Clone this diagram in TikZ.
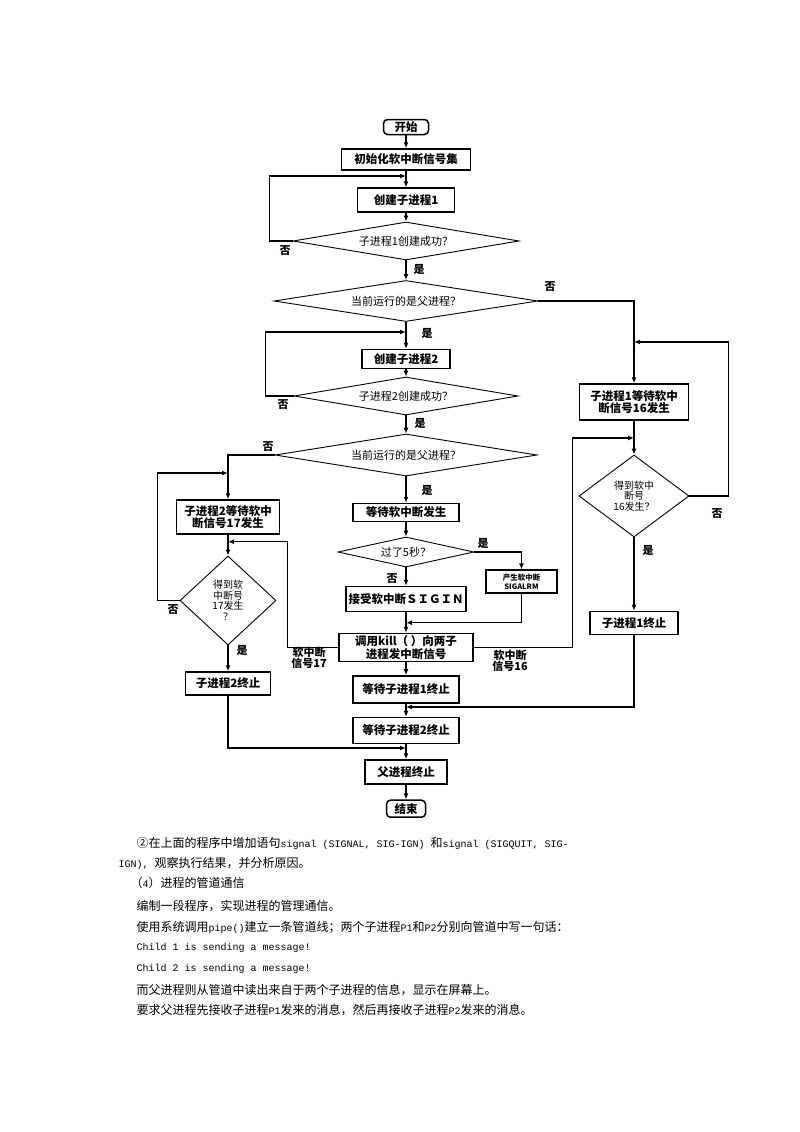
\documentclass[tikz,border=0pt]{standalone}
\usepackage{fontspec}
\setmainfont{Noto Sans CJK SC}
\newfontfamily\halfmono{Liberation Mono}
\usetikzlibrary{shapes.geometric, positioning, arrows.meta}

\newcommand{\asc}[1]{{\halfmono\fontsize{10}{12}\selectfont #1}}

\begin{document}
\begin{tikzpicture}[x=1pt, y=-1pt, on grid, line width=1.4pt, >={Latex[length=6pt,width=5pt]}]
        \tikzset{
          proc/.style={draw, rectangle, line width=1.5pt, inner sep=0pt, align=center, font=\bfseries\fontsize{11.5}{12.5}\selectfont},
          term/.style={proc, rounded corners=4pt},
          decide/.style={draw, diamond, line width=0.9pt, inner sep=0pt, align=center, font=\fontsize{11}{12}\selectfont},
          smalldecide/.style={decide, font=\fontsize{10}{10.5}\selectfont},
          yesno/.style={inner sep=0pt, align=center, font=\bfseries\fontsize{11}{11.5}\selectfont},
          bodytext/.style={anchor=west, inner sep=0pt, font=\fontsize{12}{14}\selectfont}
        }
        \useasboundingbox[fill=white] (0,0) rectangle (800,1132);

        % main column
        \node[term, minimum width=45pt, minimum height=15pt] (start) at (406,127) {开始};
        \node[proc, minimum width=129pt, minimum height=21pt, below=32.5pt of start] (init) {初始化软中断信号集};
        \node[proc, minimum width=97pt, minimum height=24pt, below=40.5pt of init] (fork1) {创建子进程1};
        \node[decide, shape aspect=5.9, minimum width=226pt, minimum height=38pt, below=41pt of fork1] (ok1) {子进程1创建成功？};
        \node[decide, shape aspect=6.5, minimum width=264pt, minimum height=41pt, below=60pt of ok1] (isparent1) {当前运行的是父进程？};
        \node[proc, minimum width=88pt, minimum height=19pt, below=58pt of isparent1] (fork2) {创建子进程2};
        \node[decide, shape aspect=5.9, minimum width=224pt, minimum height=38pt, below=37pt of fork2] (ok2) {子进程2创建成功？};
        \node[decide, shape aspect=6.2, minimum width=262pt, minimum height=42pt, below=59pt of ok2] (isparent2) {当前运行的是父进程？};
        \node[proc, minimum width=106pt, minimum height=18pt, below=57.5pt of isparent2] (waitsig) {等待软中断发生};
        \node[decide, shape aspect=4.5, minimum width=136pt, minimum height=30pt, below=39.5pt of waitsig] (fivesec) {过了5秒？};
        \node[proc, minimum width=120pt, minimum height=25pt, below=47pt of fivesec] (sigin) {接受软中断ＳＩＧＩＮ};
        \node[proc, minimum width=134pt, minimum height=28pt, below=48.5pt of sigin] (kill) {调用kill（ ）向两子\\进程发中断信号};
        \node[proc, minimum width=106pt, minimum height=27pt, below=41.8pt of kill] (wait1) {等待子进程1终止};
        \node[proc, minimum width=106pt, minimum height=26pt, below=41.2pt of wait1] (wait2) {等待子进程2终止};
        \node[proc, minimum width=82pt, minimum height=24pt, below=41.5pt of wait2] (pend) {父进程终止};
        \node[term, minimum width=39pt, minimum height=17pt, below=36.7pt of pend] (stop) {结束};

        \node[proc, minimum width=71pt, minimum height=23pt, font=\bfseries\fontsize{7.5}{9}\selectfont] (alrm) at (521.5,581.7) {产生软中断\\SIGALRM};

        % child 2
        \node[proc, minimum width=103pt, minimum height=34pt] (c2wait) at (228,517) {子进程2等待软中\\断信号17发生};
        \node[smalldecide, shape aspect=1.08, minimum width=96pt, minimum height=89pt, below=83.5pt of c2wait] (got17) {得到软\\中断号\\17发生\\？};
        \node[proc, minimum width=85pt, minimum height=23pt, below=83pt of got17] (c2end) {子进程2终止};

        % child 1
        \node[proc, minimum width=109pt, minimum height=36pt] (c1wait) at (634,402) {子进程1等待软中\\断信号16发生};
        \node[smalldecide, shape aspect=1.34, minimum width=110pt, minimum height=82pt, below=94pt of c1wait] (got16) {得到软中\\断号\\16发生？};
        \node[proc, minimum width=88pt, minimum height=23pt, below=127pt of got16] (c1end) {子进程1终止};

        % junctions
        \coordinate (j1) at (406,176);
        \coordinate (j2) at (406,332);
        \coordinate (j3) at (406,622.7);
        \coordinate (j4) at (228,541.7);
        \coordinate (j5) at (634,438);
        \coordinate (j6) at (228,473);
        \coordinate (j7) at (406,748);
        \coordinate (j8) at (634,342);
        \coordinate (j9) at (406,707);

        \draw[->] (start) -- (init);
        \draw[->] (init) -- (fork1);
        \draw[->] (fork1) -- (ok1);
        \draw[->] (ok1) -- (isparent1);
        \draw[->] (isparent1) -- (fork2);
        \draw[->] (fork2) -- (ok2);
        \draw[->] (ok2) -- (isparent2);
        \draw[->] (isparent2) -- (waitsig);
        \draw[->] (waitsig) -- (fivesec);
        \draw[->] (fivesec) -- (sigin);
        \draw[->] (sigin) -- (kill);
        \draw[->] (kill) -- (wait1);
        \draw[->] (wait1) -- (wait2);
        \draw[->] (wait2) -- (pend);
        \draw[->] (pend) -- (stop);

        \draw[->] (ok1.west) -- ++(-23,0) |- (j1);
        \draw[->] (ok2.west) -- ++(-28,0) |- (j2);
        \draw[->] (isparent1.east) -| (c1wait.north);
        \draw[->] (isparent2.west) -| (c2wait.north);
        \draw[->] (fivesec.east) -| (alrm.north);
        \draw[->] (alrm.south) |- (j3);
        \draw[->] (kill.west) -- ++(-51,0) |- (j4);
        \draw[->] (kill.east) -- ++(99,0) |- (j5);

        \draw[->] (c2wait) -- (got17);
        \draw[->] (got17.west) -- ++(-22,0) |- (j6);
        \draw[->] (got17) -- (c2end);
        \draw[->] (c2end.south) |- (j7);

        \draw[->] (c1wait) -- (got16);
        \draw[->] (got16.east) -- ++(39,0) |- (j8);
        \draw[->] (got16) -- (c1end);
        \draw[->] (c1end.south) |- (j9);

        % yes / no labels
        \node[yesno] (n1) at (285,251) {否};
        \node[yesno] (y1) at (419,269) {是};
        \node[yesno] (n2) at (550,287) {否};
        \node[yesno] (y2) at (427,333) {是};
        \node[yesno] (n3) at (283,405) {否};
        \node[yesno] (y3) at (420,423) {是};
        \node[yesno] (n4) at (268,447) {否};
        \node[yesno] (y4) at (427,490) {是};
        \node[yesno] (y5) at (483,543) {是};
        \node[yesno] (n5) at (392,579) {否};
        \node[yesno] (n6) at (173,610) {否};
        \node[yesno] (y6) at (242,650) {是};
        \node[yesno] (n7) at (717,514) {否};
        \node[yesno] (y7) at (648,550) {是};
        \node[yesno] (s17) at (309,658) {软中断\\信号17};
        \node[yesno] (s16) at (510,661) {软中断\\信号16};

        % text below
        \node[bodytext] (p1) at (136,843) {②在上面的程序中增加语句\asc{signal (SIGNAL, SIG-IGN) }和\asc{signal (SIGQUIT, SIG-}};
        \node[bodytext] (p2) at (118,863) {\asc{IGN), }观察执行结果，并分析原因。};
        \node[bodytext] (p3) at (130,883) {（\asc{4}）进程的管道通信};
        \node[bodytext] (p4) at (136,906) {编制一段程序，实现进程的管理通信。};
        \node[bodytext] (p5) at (136,927) {使用系统调用\asc{pipe()}建立一条管道线；两个子进程\asc{P1}和\asc{P2}分别向管道中写一句话：};
        \node[bodytext] (p6) at (136,948) {\asc{Child 1 is sending a message!}};
        \node[bodytext] (p7) at (136,969) {\asc{Child 2 is sending a message!}};
        \node[bodytext] (p8) at (136,990) {而父进程则从管道中读出来自于两个子进程的信息，显示在屏幕上。};
        \node[bodytext] (p9) at (136,1010) {要求父进程先接收子进程\asc{P1}发来的消息，然后再接收子进程\asc{P2}发来的消息。};
\end{tikzpicture}
\end{document}
